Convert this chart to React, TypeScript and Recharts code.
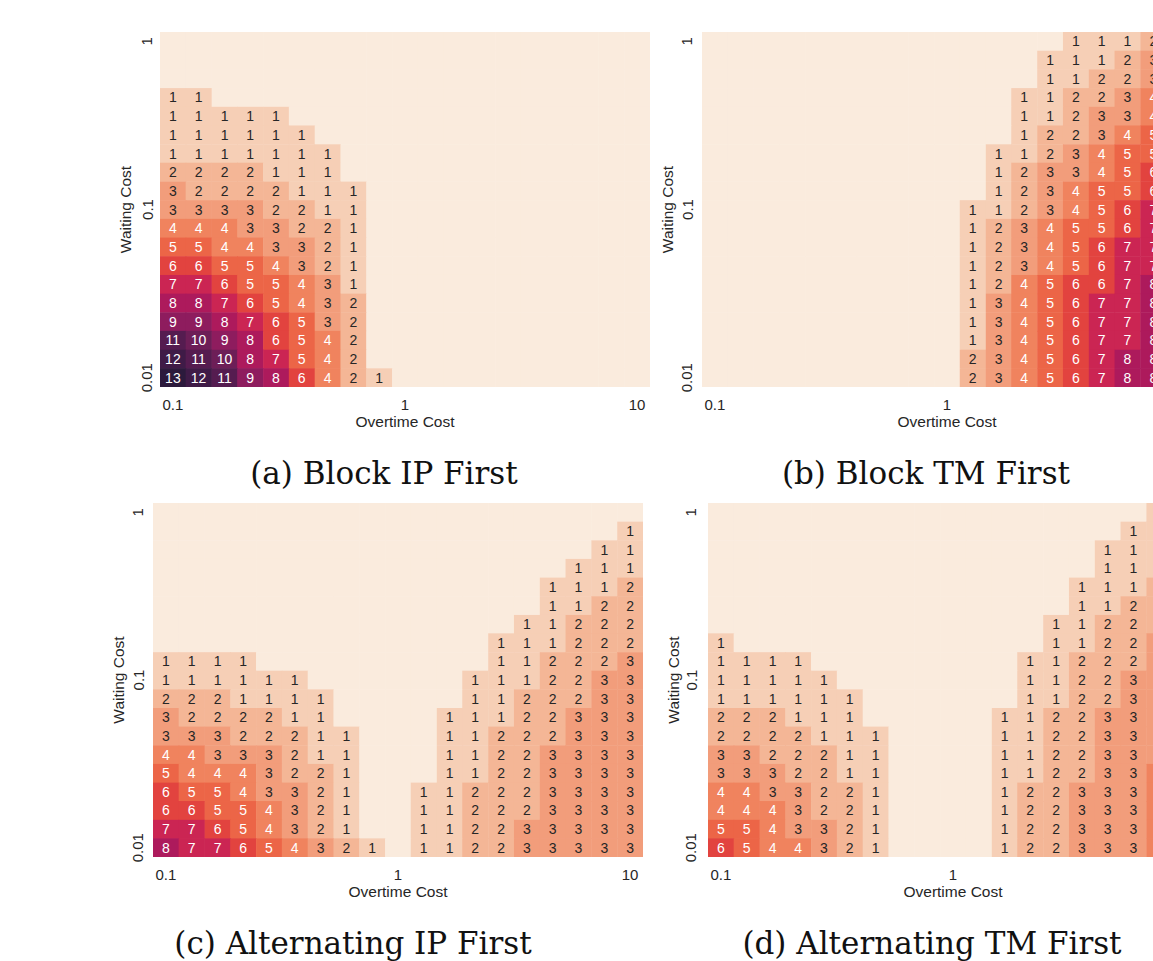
import React from "react";
import { ScatterChart, Scatter, XAxis, YAxis } from "recharts";

// grid coordinates (log-spaced, 10 steps per decade)
const overtimeCosts = [0.1, 0.129, 0.167, 0.215, 0.278, 0.359, 0.464, 0.599, 0.774, 1, 1.29, 1.67, 2.15, 2.78, 3.59, 4.64, 5.99, 7.74, 10];
// top row first
const waitingCosts = [1, 0.774, 0.599, 0.464, 0.359, 0.278, 0.215, 0.167, 0.129, 0.1, 0.0774, 0.0599, 0.0464, 0.0359, 0.0278, 0.0215, 0.0167, 0.0129, 0.01];

const xTicks = [0.1, 1, 10];
const yTicks = [0.01, 0.1, 1];

// (a) Block IP First
const blockIP = [
  [0, 0, 0, 0, 0, 0, 0, 0, 0, 0, 0, 0, 0, 0, 0, 0, 0, 0, 0],
  [0, 0, 0, 0, 0, 0, 0, 0, 0, 0, 0, 0, 0, 0, 0, 0, 0, 0, 0],
  [0, 0, 0, 0, 0, 0, 0, 0, 0, 0, 0, 0, 0, 0, 0, 0, 0, 0, 0],
  [1, 1, 0, 0, 0, 0, 0, 0, 0, 0, 0, 0, 0, 0, 0, 0, 0, 0, 0],
  [1, 1, 1, 1, 1, 0, 0, 0, 0, 0, 0, 0, 0, 0, 0, 0, 0, 0, 0],
  [1, 1, 1, 1, 1, 1, 0, 0, 0, 0, 0, 0, 0, 0, 0, 0, 0, 0, 0],
  [1, 1, 1, 1, 1, 1, 1, 0, 0, 0, 0, 0, 0, 0, 0, 0, 0, 0, 0],
  [2, 2, 2, 2, 1, 1, 1, 0, 0, 0, 0, 0, 0, 0, 0, 0, 0, 0, 0],
  [3, 2, 2, 2, 2, 1, 1, 1, 0, 0, 0, 0, 0, 0, 0, 0, 0, 0, 0],
  [3, 3, 3, 3, 2, 2, 1, 1, 0, 0, 0, 0, 0, 0, 0, 0, 0, 0, 0],
  [4, 4, 4, 3, 3, 2, 2, 1, 0, 0, 0, 0, 0, 0, 0, 0, 0, 0, 0],
  [5, 5, 4, 4, 3, 3, 2, 1, 0, 0, 0, 0, 0, 0, 0, 0, 0, 0, 0],
  [6, 6, 5, 5, 4, 3, 2, 1, 0, 0, 0, 0, 0, 0, 0, 0, 0, 0, 0],
  [7, 7, 6, 5, 5, 4, 3, 1, 0, 0, 0, 0, 0, 0, 0, 0, 0, 0, 0],
  [8, 8, 7, 6, 5, 4, 3, 2, 0, 0, 0, 0, 0, 0, 0, 0, 0, 0, 0],
  [9, 9, 8, 7, 6, 5, 3, 2, 0, 0, 0, 0, 0, 0, 0, 0, 0, 0, 0],
  [11, 10, 9, 8, 6, 5, 4, 2, 0, 0, 0, 0, 0, 0, 0, 0, 0, 0, 0],
  [12, 11, 10, 8, 7, 5, 4, 2, 0, 0, 0, 0, 0, 0, 0, 0, 0, 0, 0],
  [13, 12, 11, 9, 8, 6, 4, 2, 1, 0, 0, 0, 0, 0, 0, 0, 0, 0, 0],
];

// (b) Block TM First (last column is cut off in the figure)
const blockTM = [
  [0, 0, 0, 0, 0, 0, 0, 0, 0, 0, 0, 0, 0, 0, 1, 1, 1, 2],
  [0, 0, 0, 0, 0, 0, 0, 0, 0, 0, 0, 0, 0, 1, 1, 1, 2, 3],
  [0, 0, 0, 0, 0, 0, 0, 0, 0, 0, 0, 0, 0, 1, 1, 2, 2, 3],
  [0, 0, 0, 0, 0, 0, 0, 0, 0, 0, 0, 0, 1, 1, 2, 2, 3, 4],
  [0, 0, 0, 0, 0, 0, 0, 0, 0, 0, 0, 0, 1, 1, 2, 3, 3, 4],
  [0, 0, 0, 0, 0, 0, 0, 0, 0, 0, 0, 0, 1, 2, 2, 3, 4, 5],
  [0, 0, 0, 0, 0, 0, 0, 0, 0, 0, 0, 1, 1, 2, 3, 4, 5, 5],
  [0, 0, 0, 0, 0, 0, 0, 0, 0, 0, 0, 1, 2, 3, 3, 4, 5, 6],
  [0, 0, 0, 0, 0, 0, 0, 0, 0, 0, 0, 1, 2, 3, 4, 5, 5, 6],
  [0, 0, 0, 0, 0, 0, 0, 0, 0, 0, 1, 1, 2, 3, 4, 5, 6, 7],
  [0, 0, 0, 0, 0, 0, 0, 0, 0, 0, 1, 2, 3, 4, 5, 5, 6, 7],
  [0, 0, 0, 0, 0, 0, 0, 0, 0, 0, 1, 2, 3, 4, 5, 6, 7, 7],
  [0, 0, 0, 0, 0, 0, 0, 0, 0, 0, 1, 2, 3, 4, 5, 6, 7, 7],
  [0, 0, 0, 0, 0, 0, 0, 0, 0, 0, 1, 2, 4, 5, 6, 6, 7, 8],
  [0, 0, 0, 0, 0, 0, 0, 0, 0, 0, 1, 3, 4, 5, 6, 7, 7, 8],
  [0, 0, 0, 0, 0, 0, 0, 0, 0, 0, 1, 3, 4, 5, 6, 7, 7, 8],
  [0, 0, 0, 0, 0, 0, 0, 0, 0, 0, 1, 3, 4, 5, 6, 7, 7, 8],
  [0, 0, 0, 0, 0, 0, 0, 0, 0, 0, 2, 3, 4, 5, 6, 7, 8, 8],
  [0, 0, 0, 0, 0, 0, 0, 0, 0, 0, 2, 3, 4, 5, 6, 7, 8, 8],
];

// (c) Alternating IP First
const altIP = [
  [0, 0, 0, 0, 0, 0, 0, 0, 0, 0, 0, 0, 0, 0, 0, 0, 0, 0, 0],
  [0, 0, 0, 0, 0, 0, 0, 0, 0, 0, 0, 0, 0, 0, 0, 0, 0, 0, 1],
  [0, 0, 0, 0, 0, 0, 0, 0, 0, 0, 0, 0, 0, 0, 0, 0, 0, 1, 1],
  [0, 0, 0, 0, 0, 0, 0, 0, 0, 0, 0, 0, 0, 0, 0, 0, 1, 1, 1],
  [0, 0, 0, 0, 0, 0, 0, 0, 0, 0, 0, 0, 0, 0, 0, 1, 1, 1, 2],
  [0, 0, 0, 0, 0, 0, 0, 0, 0, 0, 0, 0, 0, 0, 0, 1, 1, 2, 2],
  [0, 0, 0, 0, 0, 0, 0, 0, 0, 0, 0, 0, 0, 0, 1, 1, 2, 2, 2],
  [0, 0, 0, 0, 0, 0, 0, 0, 0, 0, 0, 0, 0, 1, 1, 1, 2, 2, 2],
  [1, 1, 1, 1, 0, 0, 0, 0, 0, 0, 0, 0, 0, 1, 1, 2, 2, 2, 3],
  [1, 1, 1, 1, 1, 1, 0, 0, 0, 0, 0, 0, 1, 1, 1, 2, 2, 3, 3],
  [2, 2, 2, 1, 1, 1, 1, 0, 0, 0, 0, 0, 1, 1, 2, 2, 2, 3, 3],
  [3, 2, 2, 2, 2, 1, 1, 0, 0, 0, 0, 1, 1, 1, 2, 2, 3, 3, 3],
  [3, 3, 3, 2, 2, 2, 1, 1, 0, 0, 0, 1, 1, 2, 2, 2, 3, 3, 3],
  [4, 4, 3, 3, 3, 2, 1, 1, 0, 0, 0, 1, 1, 2, 2, 3, 3, 3, 3],
  [5, 4, 4, 4, 3, 2, 2, 1, 0, 0, 0, 1, 1, 2, 2, 3, 3, 3, 3],
  [6, 5, 5, 4, 3, 3, 2, 1, 0, 0, 1, 1, 2, 2, 2, 3, 3, 3, 3],
  [6, 6, 5, 5, 4, 3, 2, 1, 0, 0, 1, 1, 2, 2, 2, 3, 3, 3, 3],
  [7, 7, 6, 5, 4, 3, 2, 1, 0, 0, 1, 1, 2, 2, 3, 3, 3, 3, 3],
  [8, 7, 7, 6, 5, 4, 3, 2, 1, 0, 1, 1, 2, 2, 3, 3, 3, 3, 3],
];

// (d) Alternating TM First (last column is cut off in the figure)
const altTM = [
  [0, 0, 0, 0, 0, 0, 0, 0, 0, 0, 0, 0, 0, 0, 0, 0, 0, 1],
  [0, 0, 0, 0, 0, 0, 0, 0, 0, 0, 0, 0, 0, 0, 0, 0, 1, 1],
  [0, 0, 0, 0, 0, 0, 0, 0, 0, 0, 0, 0, 0, 0, 0, 1, 1, 1],
  [0, 0, 0, 0, 0, 0, 0, 0, 0, 0, 0, 0, 0, 0, 0, 1, 1, 1],
  [0, 0, 0, 0, 0, 0, 0, 0, 0, 0, 0, 0, 0, 0, 1, 1, 1, 2],
  [0, 0, 0, 0, 0, 0, 0, 0, 0, 0, 0, 0, 0, 0, 1, 1, 2, 2],
  [0, 0, 0, 0, 0, 0, 0, 0, 0, 0, 0, 0, 0, 1, 1, 2, 2, 2],
  [1, 0, 0, 0, 0, 0, 0, 0, 0, 0, 0, 0, 0, 1, 1, 2, 2, 3],
  [1, 1, 1, 1, 0, 0, 0, 0, 0, 0, 0, 0, 1, 1, 2, 2, 2, 3],
  [1, 1, 1, 1, 1, 0, 0, 0, 0, 0, 0, 0, 1, 1, 2, 2, 3, 3],
  [1, 1, 1, 1, 1, 1, 0, 0, 0, 0, 0, 0, 1, 1, 2, 2, 3, 3],
  [2, 2, 2, 1, 1, 1, 0, 0, 0, 0, 0, 1, 1, 2, 2, 3, 3, 3],
  [2, 2, 2, 2, 1, 1, 1, 0, 0, 0, 0, 1, 1, 2, 2, 3, 3, 3],
  [3, 3, 2, 2, 2, 1, 1, 0, 0, 0, 0, 1, 1, 2, 2, 3, 3, 3],
  [3, 3, 3, 2, 2, 1, 1, 0, 0, 0, 0, 1, 1, 2, 2, 3, 3, 4],
  [4, 4, 3, 3, 2, 2, 1, 0, 0, 0, 0, 1, 2, 2, 3, 3, 3, 4],
  [4, 4, 4, 3, 2, 2, 1, 0, 0, 0, 0, 1, 2, 2, 3, 3, 3, 4],
  [5, 5, 4, 3, 3, 2, 1, 0, 0, 0, 0, 1, 2, 2, 3, 3, 3, 4],
  [6, 5, 4, 4, 3, 2, 1, 0, 0, 0, 0, 1, 2, 2, 3, 3, 3, 4],
];

// rocket_r-like colours, index = value
const palette = [
  "#faebdd", "#f6cfb6", "#f4b696", "#f29d7b", "#f0835e", "#ec6547", "#e2433f",
  "#cb2553", "#ad1a5c", "#8e1c5e", "#6d1e57", "#551c50", "#3f1b47", "#2c1a3c",
];

const HALF = Math.pow(10, 1 / 18);
const SANS = "'Liberation Sans', Arial, sans-serif";
const INK = "#262626";

const Y_W = 70;
const X_H = 68;
const M = 10;

function toCells(grid: number[][]) {
  const out: { x: number; y: number; v: number }[] = [];
  grid.forEach((row, r) => {
    row.forEach((v, c) => {
      out.push({ x: overtimeCosts[c], y: waitingCosts[r], v });
    });
  });
  return out;
}

function HeatCell(props: any) {
  const { cx, cy, payload, cw, ch } = props;
  const v = payload.v;
  return (
    <g>
      <rect x={cx - cw / 2} y={cy - ch / 2} width={cw + 0.5} height={ch + 0.5} fill={palette[v]} />
      {v > 0 && (
        <text
          x={cx}
          y={cy}
          textAnchor="middle"
          dominantBaseline="central"
          fontSize={14}
          fontFamily={SANS}
          fill={v >= 4 ? "#ffffff" : INK}
        >
          {v}
        </text>
      )}
    </g>
  );
}

type PanelProps = {
  grid: number[][];
  left: number;
  top: number;
  w: number;
  h: number;
  tickOff: number;
};

function Panel({ grid, left, top, w, h, tickOff }: PanelProps) {
  const cells = toCells(grid);
  const cw = w / 19;
  const ch = h / 19;
  return (
    <div style={{ position: "absolute", left: left - Y_W - M, top: top - M }}>
      <ScatterChart width={M + Y_W + w + M} height={M + h + X_H} margin={{ top: M, right: M, bottom: 0, left: M }}>
        <XAxis
          type="number"
          dataKey="x"
          scale="log"
          domain={[0.1 / HALF, 10 * HALF]}
          allowDataOverflow
          ticks={xTicks}
          interval={0}
          axisLine={false}
          tickLine={false}
          height={X_H}
          tick={(p: any) => (
            <text x={p.x} y={M + h + 17} textAnchor="middle" dominantBaseline="central" fontSize={15} fontFamily={SANS} fill={INK}>
              {String(p.payload.value)}
            </text>
          )}
          label={{ value: "Overtime Cost", position: "center", fontSize: 15.5, fontFamily: SANS, fill: INK }}
        />
        <YAxis
          type="number"
          dataKey="y"
          scale="log"
          domain={[0.01 / HALF, 1 * HALF]}
          allowDataOverflow
          ticks={yTicks}
          interval={0}
          axisLine={false}
          tickLine={false}
          width={Y_W}
          tick={(p: any) => {
            const tx = M + Y_W - tickOff;
            return (
              <text x={tx} y={p.y} transform={`rotate(-90, ${tx}, ${p.y})`} textAnchor="middle" dominantBaseline="central" fontSize={15} fontFamily={SANS} fill={INK}>
                {String(p.payload.value)}
              </text>
            );
          }}
          label={{ value: "Waiting Cost", position: "center", angle: -90, fontSize: 15.5, fontFamily: SANS, fill: INK }}
        />
        <Scatter
          data={cells}
          isAnimationActive={false}
          shape={(p: any) => <HeatCell {...p} cw={cw} ch={ch} />}
        />
      </ScatterChart>
    </div>
  );
}

function Caption({ text, cx, cy }: { text: string; cx: number; cy: number }) {
  return (
    <div
      style={{
        position: "absolute",
        left: cx - 300,
        top: cy - 20,
        width: 600,
        height: 40,
        lineHeight: "40px",
        textAlign: "center",
        fontFamily: "'DejaVu Serif', serif",
        fontSize: 31,
        color: "#111",
        whiteSpace: "nowrap",
      }}
    >
      {text}
    </div>
  );
}

export default function App() {
  return (
    <div style={{ position: "fixed", left: 0, top: 0, width: 1153, height: 961, overflow: "hidden", background: "#fff" }}>
      <Panel grid={blockIP} left={160} top={32} w={490} h={355} tickOff={13} />
      <Panel grid={blockTM} left={702} top={32} w={490} h={355} tickOff={15} />
      <Panel grid={altIP} left={153} top={503} w={490} h={354} tickOff={15} />
      <Panel grid={altTM} left={708} top={503} w={490} h={354} tickOff={17} />
      <Caption text="(a) Block IP First" cx={384} cy={473} />
      <Caption text="(b) Block TM First" cx={926} cy={473} />
      <Caption text="(c) Alternating IP First" cx={353} cy={943} />
      <Caption text="(d) Alternating TM First" cx={932} cy={943} />
    </div>
  );
}
